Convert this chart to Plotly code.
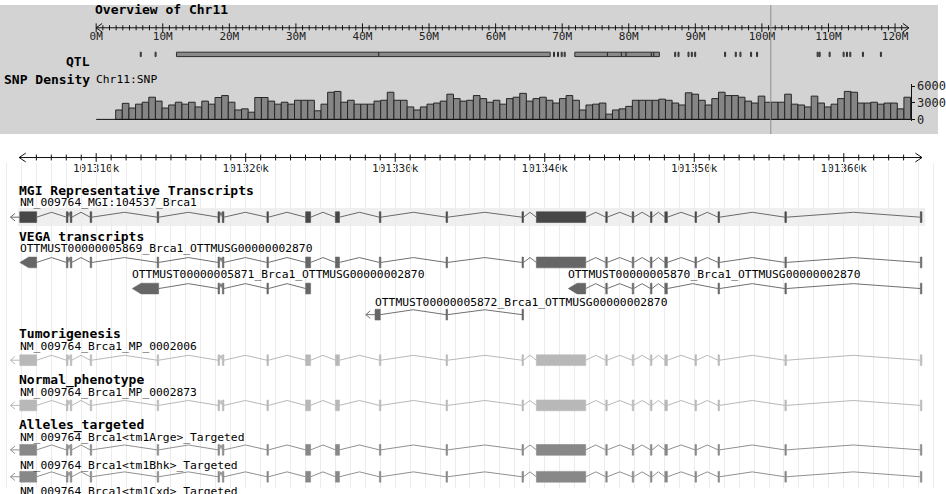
import math
import plotly.graph_objects as go

# ======================= DATA =======================
CHROM_NAME = "Chr11"
CHROM_LEN_MB = 122.08

OVERVIEW_TICKS_MB = [0, 10, 20, 30, 40, 50, 60, 70, 80, 90, 100, 110, 120]
OVERVIEW_TICK_LABELS = ["0M", "10M", "20M", "30M", "40M", "50M", "60M",
                        "70M", "80M", "90M", "100M", "110M", "120M"]

QTL_START_MB = [6.62, 8.85, 12.06, 42.45, 68.7, 69.3, 69.85, 70.3,
                71.9, 76.8, 78.9, 79.6, 83.4, 83.75,
                86.9, 87.4, 88.9, 89.4, 89.9, 94.4, 96.0, 96.7, 98.3, 99.2,
                108.3, 108.6, 110.1, 112.2, 112.7, 113.2, 115.1, 117.8]
QTL_END_MB = [6.77, 9.0, 42.45, 68.2, 68.85, 69.45, 70.0, 70.45,
              76.8, 78.9, 79.6, 83.4, 83.75, 84.6,
              87.05, 87.55, 89.05, 89.55, 90.05, 94.55, 96.15, 96.85, 98.45, 99.35,
              108.45, 108.75, 110.25, 112.35, 112.85, 113.35, 115.25, 117.95]

SNP_TRACK_NAME = "Chr11:SNP"
SNP_BIN_START_MB = 2.93
SNP_BIN_MB = 0.995
SNP_DENSITY = [
    1700, 2900, 2050, 2750, 3100, 4000, 3300, 2050, 2600, 3100,
    2750, 3100, 2250, 3300, 2750, 3950, 4300, 3100, 1700, 1900,
    1300, 3950, 3950, 3300, 2750, 3100, 2750, 3450, 3450, 3450,
    1550, 2750, 4900, 5050, 3100, 3450, 2750, 2750, 2750, 3300,
    3450, 4900, 3450, 3450, 2250, 1700, 2250, 2750, 2950, 3300,
    4550, 3750, 3300, 3450, 4300, 3750, 3100, 3450, 2750, 3750,
    4000, 4700, 3300, 3750, 4000, 3450, 2950, 3750, 4300, 3450,
    1700, 2600, 2750, 2950, 950, 1700, 1900, 2350, 3450, 3450,
    3450, 3450, 3650, 3450, 2950, 2600, 4800, 4550, 3450, 2600,
    3750, 4900, 4300, 4300, 4000, 3300, 2950, 4200, 3100, 3100,
    3100, 4550, 2750, 2600, 2250, 4200, 2950, 2250, 2750, 3750,
    5050, 4900, 2950, 2950, 3100, 2750, 2950, 2950, 1900, 4000]
SNP_AXIS_TICKS = [0, 3000, 6000]

VIEW_START_KB = 101304.85
VIEW_END_KB = 101365.23
DETAIL_TICKS_KB = [101310, 101320, 101330, 101340, 101350, 101360]
DETAIL_TICK_LABELS = ["101310k", "101320k", "101330k", "101340k", "101350k", "101360k"]

# Brca1 model (MGI representative / phenotype / allele tracks share it)
BRCA1_EXON_START_KB = [101304.89, 101308.01, 101308.27, 101309.60, 101314.08, 101318.15,
                       101318.44, 101321.42, 101324.01, 101326.00, 101328.94, 101333.40,
                       101338.48, 101339.44, 101344.08, 101345.85, 101347.07, 101348.03,
                       101350.05, 101351.59, 101356.06, 101365.12]
BRCA1_EXON_END_KB = [101306.02, 101308.11, 101308.37, 101309.70, 101314.18, 101318.25,
                     101318.54, 101321.52, 101324.34, 101326.27, 101329.04, 101333.50,
                     101338.58, 101342.74, 101344.18, 101345.95, 101347.17, 101348.20,
                     101350.15, 101351.69, 101356.16, 101365.22]

OTT5871_EXON_START_KB = [101312.41, 101318.15, 101318.44, 101321.42, 101324.01]
OTT5871_EXON_END_KB = [101314.18, 101318.25, 101318.54, 101321.52, 101324.34]

OTT5870_EXON_START_KB = [101341.57, 101344.08, 101345.85, 101347.07, 101348.03,
                         101351.59, 101356.06, 101365.12]
OTT5870_EXON_END_KB = [101342.74, 101344.18, 101345.95, 101347.17, 101348.20,
                       101351.69, 101356.16, 101365.22]

OTT5872_EXON_START_KB = [101328.65, 101333.40, 101338.48]
OTT5872_EXON_END_KB = [101329.00, 101333.50, 101338.58]

# ======================= LAYOUT / STYLE =======================
W, H = 946, 494
MONO = "DejaVu Sans Mono"
INK = "#111111"

OV_PX_ZERO = 97.0
OV_PX_PER_MB = 6.714
OV_PANEL_H = 132.0
OV_AXIS_Y = 23.3
OV_LABEL_Y = 33.3
QTL_ROW_Y = 50.5
SNP_BASE_PX = 117.0
SNP_TOP_PX = 83.0     # pixel row of SNP_AXIS_TICKS[-1]

DT_PX_REF = 97.0
DT_KB_REF = 101310.0
DT_PX_PER_KB = 15.08
DT_AXIS_Y = 156.0
DT_LABEL_Y = 168.3
TRACK_TOP_PX = 162.0

EXON_H = 11.0
HAT_H = 5.0
TIP_KB = 0.6
LINE_ARROW_KB = 0.62
HEAD_KB = 0.3

MGI_COLOR, MGI_LINE = "#474747", "#6a6a6a"
VEGA_COLOR, VEGA_LINE = "#666666", "#707070"
PHENO_COLOR, PHENO_LINE = "#b8b8b8", "#b8b8b8"
ALLELE_COLOR, ALLELE_LINE = "#888888", "#909090"


def pfy(px):
    return 1 - px / H


def pfx(px):
    return px / W


fig = go.Figure()


def add_segments(segs, xa, ya, color=INK, width=1):
    xs, ys = [], []
    for x0, y0, x1, y1 in segs:
        xs += [x0, x1, None]
        ys += [y0, y1, None]
    fig.add_trace(go.Scatter(x=xs, y=ys, mode="lines", line=dict(color=color, width=width),
                             xaxis=xa, yaxis=ya, hoverinfo="skip", showlegend=False))


def add_polyline(xs, ys, xa, ya, color, width=1):
    fig.add_trace(go.Scatter(x=xs, y=ys, mode="lines", line=dict(color=color, width=width),
                             xaxis=xa, yaxis=ya, hoverinfo="skip", showlegend=False))


# ---------------- Overview panel ----------------
L = CHROM_LEN_MB
segs = [(0, OV_AXIS_Y, L, OV_AXIS_Y)]
for m in range(0, int(math.floor(L - 0.5)) + 1):
    h = 4.5 if m in OVERVIEW_TICKS_MB else 2.6
    segs.append((m, OV_AXIS_Y - h, m, OV_AXIS_Y + h))
add_segments(segs, "x", "y")
add_polyline([0.9, 0, 0.9], [OV_AXIS_Y - 4.4, OV_AXIS_Y, OV_AXIS_Y + 4.4], "x", "y", INK)
add_polyline([L - 0.9, L, L - 0.9], [OV_AXIS_Y - 4.4, OV_AXIS_Y, OV_AXIS_Y + 4.4], "x", "y", INK)
fig.add_trace(go.Scatter(x=OVERVIEW_TICKS_MB, y=[OV_LABEL_Y] * len(OVERVIEW_TICKS_MB),
                         text=OVERVIEW_TICK_LABELS, mode="text", textposition="middle center",
                         textfont=dict(family=MONO, size=11, color="#222"),
                         xaxis="x", yaxis="y", cliponaxis=False, hoverinfo="skip", showlegend=False))

# QTL
fig.add_trace(go.Bar(orientation="h", base=QTL_START_MB,
                     x=[e - s for s, e in zip(QTL_START_MB, QTL_END_MB)],
                     y=[QTL_ROW_Y] * len(QTL_START_MB), width=4.5,
                     marker=dict(color="#8a8a8a", line=dict(color="#2e2e2e", width=1)),
                     xaxis="x", yaxis="y", hoverinfo="skip", showlegend=False))

# SNP density
centers = [SNP_BIN_START_MB + (i + 0.5) * SNP_BIN_MB for i in range(len(SNP_DENSITY))]
snp_end = SNP_BIN_START_MB + len(SNP_DENSITY) * SNP_BIN_MB
fig.add_trace(go.Bar(x=centers, y=SNP_DENSITY, width=SNP_BIN_MB,
                     marker=dict(color="#858585", line=dict(color="#262626", width=1)),
                     xaxis="x", yaxis="y2", hoverinfo="skip", showlegend=False))
add_polyline([0, snp_end], [0, 0], "x", "y2", INK)

snp_units_per_px = SNP_AXIS_TICKS[-1] / (SNP_BASE_PX - SNP_TOP_PX)
snp_pad = 300
y2_dom = [pfy(SNP_BASE_PX + snp_pad / snp_units_per_px), pfy(SNP_TOP_PX - snp_pad / snp_units_per_px)]

# ---------------- Detail axis ----------------
segs = [(VIEW_START_KB, DT_AXIS_Y, VIEW_END_KB, DT_AXIS_Y)]
k = math.ceil(VIEW_START_KB + 0.5)
while k <= VIEW_END_KB - 0.5:
    h = 4.5 if k in DETAIL_TICKS_KB else 3.0
    segs.append((k, DT_AXIS_Y - h, k, DT_AXIS_Y + h))
    k += 1
add_segments(segs, "x2", "y3")
add_polyline([VIEW_START_KB + 0.44, VIEW_START_KB, VIEW_START_KB + 0.44],
             [DT_AXIS_Y - 4.5, DT_AXIS_Y, DT_AXIS_Y + 4.5], "x2", "y3", INK)
add_polyline([VIEW_END_KB - 0.44, VIEW_END_KB, VIEW_END_KB - 0.44],
             [DT_AXIS_Y - 4.5, DT_AXIS_Y, DT_AXIS_Y + 4.5], "x2", "y3", INK)
fig.add_trace(go.Scatter(x=DETAIL_TICKS_KB, y=[DT_LABEL_Y] * len(DETAIL_TICKS_KB),
                         text=DETAIL_TICK_LABELS, mode="text", textposition="middle center",
                         textfont=dict(family=MONO, size=11, color="#222"),
                         xaxis="x2", yaxis="y3", cliponaxis=False, hoverinfo="skip", showlegend=False))


# ---------------- Transcripts ----------------
def draw_transcript(starts, ends, yc, color, line_color, style):
    n = len(starts)
    xs, ys = [], []
    for i in range(n - 1):
        a, b = ends[i], starts[i + 1]
        xs += [a, (a + b) / 2, b, None]
        ys += [yc, yc - HAT_H, yc, None]
    add_polyline(xs, ys, "x3", "y4", line_color, 1)
    first = 0
    if style == "pentagon":
        s, e = starts[0], ends[0]
        tip = min(TIP_KB, e - s)
        fig.add_trace(go.Scatter(
            x=[s, s + tip, e, e, s + tip, s],
            y=[yc, yc - EXON_H / 2, yc - EXON_H / 2, yc + EXON_H / 2, yc + EXON_H / 2, yc],
            mode="lines", fill="toself", fillcolor=color, line=dict(color=color, width=0.5),
            xaxis="x3", yaxis="y4", hoverinfo="skip", showlegend=False))
        first = 1
    else:
        s = starts[0]
        t = s - LINE_ARROW_KB
        add_polyline([s, t, None, t + HEAD_KB, t, t + HEAD_KB],
                     [yc, yc, None, yc - 3.8, yc, yc + 3.8], "x3", "y4", line_color, 1)
    bs = starts[first:]
    be = ends[first:]
    fig.add_trace(go.Bar(orientation="h", base=bs, x=[e - s for s, e in zip(bs, be)],
                         y=[yc] * len(bs), width=EXON_H,
                         marker=dict(color=color, line=dict(color=color, width=0.6)),
                         xaxis="x3", yaxis="y4", hoverinfo="skip", showlegend=False))


MGI_Y = 217.0
shapes = []
# MGI highlight band
shapes.append(dict(type="rect", xref="x3", yref="y4",
                   x0=BRCA1_EXON_START_KB[0] - 0.13, x1=BRCA1_EXON_END_KB[-1] + 0.22,
                   y0=MGI_Y - 9.5, y1=MGI_Y + 9.0, fillcolor="#efefef",
                   line=dict(width=0), layer="below"))

transcripts = [
    (BRCA1_EXON_START_KB, BRCA1_EXON_END_KB, MGI_Y, MGI_COLOR, MGI_LINE, "line"),
    (BRCA1_EXON_START_KB, BRCA1_EXON_END_KB, 263.3, VEGA_COLOR, VEGA_LINE, "pentagon"),
    (OTT5871_EXON_START_KB, OTT5871_EXON_END_KB, 290.0, VEGA_COLOR, VEGA_LINE, "pentagon"),
    (OTT5870_EXON_START_KB, OTT5870_EXON_END_KB, 290.0, VEGA_COLOR, VEGA_LINE, "pentagon"),
    (OTT5872_EXON_START_KB, OTT5872_EXON_END_KB, 316.7, VEGA_COLOR, VEGA_LINE, "line"),
    (BRCA1_EXON_START_KB, BRCA1_EXON_END_KB, 363.3, PHENO_COLOR, PHENO_LINE, "line"),
    (BRCA1_EXON_START_KB, BRCA1_EXON_END_KB, 409.5, PHENO_COLOR, PHENO_LINE, "line"),
    (BRCA1_EXON_START_KB, BRCA1_EXON_END_KB, 455.0, ALLELE_COLOR, ALLELE_LINE, "line"),
    (BRCA1_EXON_START_KB, BRCA1_EXON_END_KB, 482.5, ALLELE_COLOR, ALLELE_LINE, "line"),
    (BRCA1_EXON_START_KB, BRCA1_EXON_END_KB, 510.5, ALLELE_COLOR, ALLELE_LINE, "line"),
]
for t in transcripts:
    draw_transcript(*t)

# ---------------- Text labels ----------------
annotations = []


def label_paper(text, xpx, ypx, bold=False, size=11.3, anchor="left"):
    annotations.append(dict(text=f"<b>{text}</b>" if bold else text, xref="paper", yref="paper",
                            x=pfx(xpx), y=pfy(ypx), xanchor=anchor, yanchor="middle",
                            showarrow=False, borderpad=0, borderwidth=0,
                            font=dict(family=MONO, size=size, color="#000")))


def label_kb(text, xkb, ypx, size=11.3):
    annotations.append(dict(text=text, xref="x3", yref="paper", x=xkb, y=pfy(ypx),
                            xanchor="left", yanchor="middle", showarrow=False,
                            borderpad=0, borderwidth=0,
                            font=dict(family=MONO, size=size, color="#000")))


label_paper(f"Overview of {CHROM_NAME}", 96, 5.0, bold=True, size=13)
label_paper("QTL", 91, 57.3, bold=True, size=13, anchor="right")
label_paper("SNP Density", 91, 76.7, bold=True, size=13, anchor="right")
annotations.append(dict(text=SNP_TRACK_NAME, xref="x", yref="paper", x=0, y=pfy(76.7),
                        xanchor="left", yanchor="middle", showarrow=False, borderpad=0,
                        borderwidth=0, font=dict(family=MONO, size=11.3, color="#000")))

TITLE_X = 19
label_paper("MGI Representative Transcripts", TITLE_X, 189.5, bold=True, size=13)
label_kb("NM_009764_MGI:104537_Brca1", BRCA1_EXON_START_KB[0], 201.5)
label_paper("VEGA transcripts", TITLE_X, 236.5, bold=True, size=13)
label_kb("OTTMUST00000005869_Brca1_OTTMUSG00000002870", BRCA1_EXON_START_KB[0], 249.0)
label_kb("OTTMUST00000005871_Brca1_OTTMUSG00000002870", OTT5871_EXON_START_KB[0], 276.0)
label_kb("OTTMUST00000005870_Brca1_OTTMUSG00000002870", OTT5870_EXON_START_KB[0], 276.0)
label_kb("OTTMUST00000005872_Brca1_OTTMUSG00000002870", OTT5872_EXON_START_KB[0], 304.5)
label_paper("Tumorigenesis", TITLE_X, 335.7, bold=True, size=13)
label_kb("NM_009764_Brca1_MP_0002006", BRCA1_EXON_START_KB[0], 349.5)
label_paper("Normal_phenotype", TITLE_X, 383.3, bold=True, size=13)
label_kb("NM_009764_Brca1_MP_0002873", BRCA1_EXON_START_KB[0], 396.0)
label_paper("Alleles_targeted", TITLE_X, 429.3, bold=True, size=13)
label_kb("NM_009764_Brca1&lt;tm1Arge&gt;_Targeted", BRCA1_EXON_START_KB[0], 442.0)
label_kb("NM_009764_Brca1&lt;tm1Bhk&gt;_Targeted", BRCA1_EXON_START_KB[0], 470.5)
label_kb("NM_009764_Brca1&lt;tm1Cxd&gt;_Targeted", BRCA1_EXON_START_KB[0], 498.0)

# ---------------- Shapes: overview background & current position ----------------
shapes.insert(0, dict(type="rect", xref="paper", yref="paper", x0=0, x1=1,
                      y0=pfy(OV_PANEL_H), y1=1, fillcolor="#d3d3d3",
                      line=dict(width=0), layer="below"))
view_mid_mb = (VIEW_START_KB + VIEW_END_KB) / 2 / 1000.0
shapes.append(dict(type="line", xref="x", yref="paper", x0=view_mid_mb, x1=view_mid_mb,
                   y0=pfy(OV_PANEL_H), y1=1, line=dict(color="#8e8e8e", width=1), layer="above"))

ov_range = [(0 - OV_PX_ZERO) / OV_PX_PER_MB, (W - OV_PX_ZERO) / OV_PX_PER_MB]
dt_range = [DT_KB_REF + (0 - DT_PX_REF) / DT_PX_PER_KB, DT_KB_REF + (W - DT_PX_REF) / DT_PX_PER_KB]

hidden = dict(visible=False, fixedrange=True)
fig.update_layout(
    width=W, height=H, autosize=False,
    margin=dict(l=0, r=0, t=0, b=0, pad=0),
    paper_bgcolor="white", plot_bgcolor="rgba(0,0,0,0)",
    barmode="overlay", hovermode=False, showlegend=False,
    xaxis=dict(range=ov_range, domain=[0, 1], anchor="y", **hidden),
    yaxis=dict(range=[OV_PANEL_H, 0], domain=[pfy(OV_PANEL_H), 1], anchor="x", **hidden),
    yaxis2=dict(range=[-snp_pad, SNP_AXIS_TICKS[-1] + snp_pad], domain=y2_dom,
                anchor="free", position=pfx(OV_PX_ZERO + snp_end * OV_PX_PER_MB),
                side="right", showline=True, linecolor=INK, linewidth=1,
                ticks="outside", ticklen=3, tickcolor=INK, tickwidth=1,
                tickvals=SNP_AXIS_TICKS, ticktext=[str(v) for v in SNP_AXIS_TICKS],
                tickfont=dict(family=MONO, size=12, color="#222"),
                showgrid=False, zeroline=False, fixedrange=True),
    xaxis2=dict(range=dt_range, domain=[0, 1], anchor="y3", **hidden),
    yaxis3=dict(range=[180, OV_PANEL_H], domain=[pfy(180), pfy(OV_PANEL_H)], anchor="x2", **hidden),
    xaxis3=dict(range=dt_range, domain=[0, 1], anchor="y4", showgrid=True,
                gridcolor="#ececec", gridwidth=1, tick0=DT_KB_REF, dtick=1,
                showticklabels=False, ticks="", showline=False, zeroline=False, fixedrange=True),
    yaxis4=dict(range=[H, TRACK_TOP_PX], domain=[0, pfy(TRACK_TOP_PX)], anchor="x3", **hidden),
    shapes=shapes,
    annotations=annotations,
)

fig.write_html("out.html", config={"displayModeBar": False},
               post_script="document.body.style.margin='0';document.body.style.overflow='hidden';")
